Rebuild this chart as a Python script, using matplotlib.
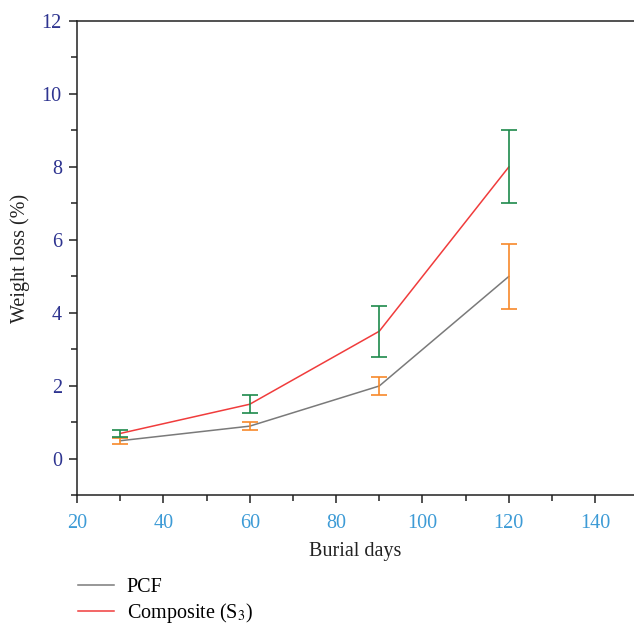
import numpy as np
import matplotlib.pyplot as plt
from matplotlib.ticker import MultipleLocator

plt.rcParams['font.family'] = ['Liberation Serif', 'DejaVu Serif']
plt.rcParams['mathtext.fontset'] = 'stix'

days = [30, 60, 90, 120]
pcf = [0.5, 0.9, 2.0, 5.0]
pcf_err = [0.08, 0.1, 0.25, 0.9]
composite = [0.7, 1.5, 3.5, 8.0]
composite_err = [0.1, 0.25, 0.7, 1.0]

fig = plt.figure(figsize=(6.34, 6.28), dpi=100)
ax = fig.add_axes([0.1215, 0.211, 0.8785, 0.7556])

l_pcf, = ax.plot(days, pcf, color='#7a7a7a', lw=1.1, label='PCF')
l_comp, = ax.plot(days, composite, color='#f03c3c', lw=1.1,
                  label='Composite (S$_3$)')
ax.errorbar(days, pcf, yerr=pcf_err, fmt='none', ecolor='#f7892a',
            elinewidth=1.2, capsize=5.5, capthick=1.2)
ax.errorbar(days, composite, yerr=composite_err, fmt='none', ecolor='#1e8a4c',
            elinewidth=1.2, capsize=5.5, capthick=1.2)

ax.set_xlim(20, 149)
ax.set_ylim(-1, 12)
ax.xaxis.set_major_locator(MultipleLocator(20))
ax.xaxis.set_minor_locator(MultipleLocator(10))
ax.yaxis.set_major_locator(MultipleLocator(2))
ax.yaxis.set_minor_locator(MultipleLocator(1))

ax.spines['right'].set_visible(False)
for s in ['left', 'bottom', 'top']:
    ax.spines[s].set_linewidth(1.1)
    ax.spines[s].set_color('#222222')

ax.tick_params(which='major', length=6, width=1.1, color='#222222')
ax.tick_params(which='minor', length=4, width=1.1, color='#222222')
ax.tick_params(axis='x', which='major', labelsize=14.5, labelcolor='#3d9bd6', pad=7)
ax.tick_params(axis='y', which='major', labelsize=14.5, labelcolor='#2e3490', pad=5)

ax.set_xlabel('Burial days', fontsize=14.5, color='#222222', labelpad=7)
ax.set_ylabel('Weight loss (%)', fontsize=14.5, color='#222222', labelpad=8)

fig.legend(handles=[l_pcf, l_comp], loc='upper left',
           bbox_to_anchor=(0.111, 0.092), frameon=False, fontsize=14.5,
           handlelength=1.75, handletextpad=0.65, labelspacing=0.2,
           borderaxespad=0)

fig.savefig('out.png', dpi=100)
